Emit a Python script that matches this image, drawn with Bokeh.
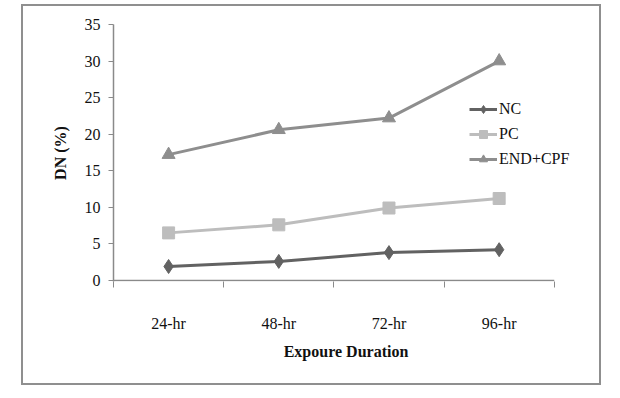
from bokeh.plotting import figure
from bokeh.models import FixedTicker, Range1d, Legend, LegendItem
from bokeh.embed import file_html
from bokeh.resources import INLINE

categories = ["24-hr", "48-hr", "72-hr", "96-hr"]
nc = [1.9, 2.6, 3.8, 4.2]
pc = [6.5, 7.6, 9.9, 11.2]
end_cpf = [17.2, 20.6, 22.2, 30.0]
y_ticks = [0, 5, 10, 15, 20, 25, 30, 35]

n = len(categories)
xs = [i + 0.5 for i in range(n)]

p = figure(width=580, height=381, output_backend="svg", toolbar_location=None,
           x_range=Range1d(0, n + 0.22), y_range=Range1d(-0.15, 35),
           min_border_left=90, min_border_right=25, min_border_top=18, min_border_bottom=106)
p.margin = (4, 0, 0, 21)
p.styles = {"border": "2px solid #8f8f8f", "box-sizing": "border-box"}
p.outline_line_color = None
p.grid.grid_line_color = None
p.background_fill_color = "white"
p.border_fill_color = "white"

font = "Liberation Serif"
ax = p.xaxis[0]
ax.ticker = FixedTicker(ticks=xs, minor_ticks=list(range(n + 1)))
ax.major_label_overrides = {x: c for x, c in zip(xs, categories)}
ax.major_tick_out = 0
ax.major_tick_in = 0
ax.minor_tick_out = 6
ax.minor_tick_in = 0
ax.minor_tick_line_color = "#8a8a8a"
ax.axis_line_color = None
ax.major_label_standoff = 27
ax.major_label_text_font = font
ax.major_label_text_font_size = "16px"
ax.major_label_text_color = "#111111"
ax.axis_label = "Expoure Duration"
ax.axis_label_text_font = font
ax.axis_label_text_font_style = "bold"
ax.axis_label_text_font_size = "16px"
ax.axis_label_standoff = 8
ax.axis_label_text_color = "#111111"

# x axis line spanning only the category slots
p.segment(x0=[0], y0=[0], x1=[n], y1=[0], line_color="#8a8a8a", line_width=1.5)

ay = p.yaxis[0]
ay.ticker = FixedTicker(ticks=y_ticks, minor_ticks=[])
ay.major_tick_out = 5
ay.major_tick_in = 0
ay.major_tick_line_color = "#8a8a8a"
ay.axis_line_color = "#8a8a8a"
ay.axis_line_width = 1.5
ay.major_label_standoff = 8
ay.major_label_text_font = font
ay.major_label_text_font_size = "16px"
ay.major_label_text_color = "#111111"
ay.axis_label = "DN (%)"
ay.axis_label_text_font = font
ay.axis_label_text_font_style = "bold"
ay.axis_label_text_font_size = "16px"
ay.axis_label_standoff = 13
ay.axis_label_text_color = "#111111"

c_nc, c_pc, c_end = "#626262", "#bdbdbd", "#8e8e8e"
l1 = p.line(xs, nc, line_color=c_nc, line_width=3)
m1 = p.scatter(xs, nc, marker="diamond", size=14, color=c_nc)
l2 = p.line(xs, pc, line_color=c_pc, line_width=3)
m2 = p.scatter(xs, pc, marker="square", size=12, color=c_pc)
l3 = p.line(xs, end_cpf, line_color=c_end, line_width=3)
m3 = p.scatter(xs, end_cpf, marker="triangle", size=13, color=c_end)

legend = Legend(items=[LegendItem(label="NC", renderers=[l1, m1]),
                       LegendItem(label="PC", renderers=[l2, m2]),
                       LegendItem(label="END+CPF", renderers=[l3, m3])],
                location=(356, 112))
legend.border_line_color = None
legend.background_fill_alpha = 0
legend.label_text_font = font
legend.label_text_font_size = "16px"
legend.label_text_color = "#111111"
legend.glyph_width = 28
legend.glyph_height = 20
legend.label_standoff = 2
legend.spacing = 5
legend.padding = 0
legend.margin = 0
p.add_layout(legend, "center")

open("out.html", "w").write(file_html(p, INLINE))
